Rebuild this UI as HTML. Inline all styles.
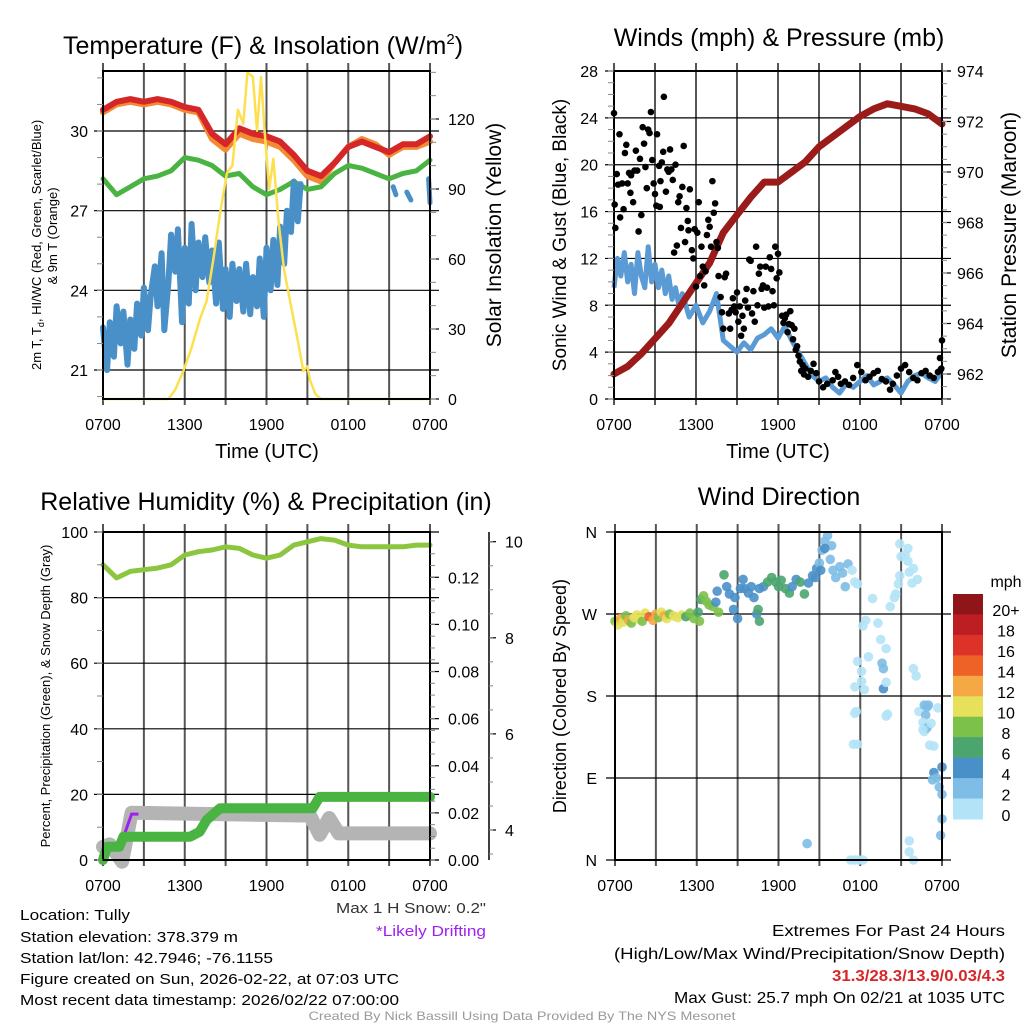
<!DOCTYPE html>
<html><head><meta charset="utf-8"><style>
html,body{margin:0;padding:0;background:#fff;}
svg{display:block;font-family:"Liberation Sans",Arial,sans-serif;}
</style></head><body>
<svg id="fig" width="1024" height="1024" viewBox="0 0 1024 1024" xmlns="http://www.w3.org/2000/svg">
<rect width="1024" height="1024" fill="#fff"/>
<g id="layer-grid"></g>
<g id="layer-data"></g>
<g id="layer-axes"></g>
<g id="layer-text"></g>
</svg>
<script>
// ---------- DATA ----------
const hours = [0,1,2,3,4,5,6,7,8,9,10,11,12,13,14,15,16,17,18,19,20,21,22,23,24];
const xTickLabels = ["0700","1300","1900","0100","0700"];
const tempRed = [30.8,31.1,31.2,31.1,31.2,31.1,30.9,30.8,29.9,29.5,30.1,29.9,29.8,29.6,29.1,28.5,28.3,28.8,29.4,29.6,29.4,29.2,29.5,29.5,29.8];
const tempOrange = [30.7,31.0,31.1,31.0,31.1,31.0,30.8,30.7,29.7,29.3,29.9,29.7,29.6,29.4,28.9,28.3,28.1,28.8,29.4,29.7,29.5,29.1,29.4,29.4,29.6];
const tempGreen = [28.2,27.6,27.9,28.2,28.3,28.5,29.0,28.9,28.7,28.3,28.4,27.9,27.6,27.8,28.1,27.8,27.9,28.4,28.7,28.6,28.4,28.2,28.4,28.5,28.9];
const dewTimes = [0,0.3,0.5,0.8,1,1.3,1.5,1.8,2,2.3,2.5,2.8,3,3.3,3.5,3.8,4,4.3,4.5,4.8,5,5.3,5.5,5.8,6,6.3,6.5,6.8,7,7.3,7.5,7.8,8,8.3,8.5,8.8,9,9.3,9.5,9.8,10,10.3,10.5,10.8,11,11.3,11.5,11.8,12,12.3,12.5,12.8,13,13.3,13.5,13.8,14,14.3,14.5];
const dewVals = [22.6,21.0,22.8,21.5,23.4,22.0,23.2,21.2,22.9,21.8,23.5,22.3,24.1,22.5,23.8,24.9,23.4,25.4,22.5,24.3,26.1,24.7,26.3,22.8,25.6,23.5,26.5,24.0,25.8,24.5,26.0,24.3,25.5,23.5,25.8,23.3,24.8,23.0,25.0,23.6,24.8,23.2,25.0,23.1,24.5,23.4,25.2,23.0,25.6,24.0,25.9,24.2,26.4,25.0,27.0,26.2,28.1,26.6,28.0];
const dewEndTimes = [21.3,21.5,null,22.3,22.6,null,23.9,24];
const dewEndVals = [27.9,27.6,null,27.7,27.4,null,28.2,27.3];
const solarTimes = [0,4.8,5.3,5.9,6.5,7.1,7.6,8.1,8.6,9.1,9.5,9.9,10.3,10.6,11.0,11.3,11.6,11.9,12.2,12.5,12.9,13.3,13.8,14.3,14.7,15.0,15.2,15.6,16,24];
const solarVals = [0,0,4,12,22,34,42,60,80,97,100,124,118,140,138,115,138,112,90,103,75,55,40,25,12,14,8,2,0,0];
const windTimes = [0,0.25,0.5,0.75,1,1.25,1.5,1.75,2,2.25,2.5,2.75,3,3.25,3.5,3.75,4,4.25,4.5,4.75,5,5.5,6,6.5,7,7.5,8,8.5,9,9.5,10,10.5,11,11.5,12,12.5,13,13.5,14,14.5,15,15.5,16,16.5,17,17.5,18,18.5,19,19.5,20,20.5,21,21.5,22,22.5,23,23.5,24];
const windVals = [9.5,12,10.5,12.5,10,11.5,9,12.5,10.5,9.5,13,10,11.5,9.5,11,9,10.5,8.5,9.5,8,9,7,8,6.5,7.5,9,5,4.5,4,4.8,4.2,5.2,5.5,6,5.2,6.2,5,4,3,2,1.5,1.8,1,0.5,1.3,1,1.5,2,1.2,1.5,1.8,1.2,0.5,1.5,2,2.2,1.8,1.5,2.3];
const gustTimes = [0,0.05,0.1,0.2,0.3,0.4,0.45,0.6,0.7,0.8,0.9,1.0,1.1,1.2,1.25,1.4,1.5,1.6,1.7,1.8,1.9,2.0,2.1,2.2,2.3,2.4,2.5,2.6,2.7,2.8,2.9,3.0,3.1,3.15,3.3,3.35,3.4,3.5,3.6,3.65,3.8,3.9,4.0,4.1,4.2,4.3,4.4,4.5,4.6,4.7,4.8,4.9,5.0,5.1,5.2,5.3,5.4,5.45,5.55,5.7,5.8,5.9,6.0,6.1,6.2,6.3,6.4,6.5,6.6,6.7,6.8,6.9,7.0,7.1,7.2,7.3,7.4,7.5,7.6,7.65,7.8,7.9,8.0,8.1,8.2,8.4,8.5,8.6,8.7,8.8,8.9,9.0,9.1,9.2,9.3,9.4,9.5,9.6,9.7,9.8,9.9,10.0,10.1,10.2,10.3,10.4,10.5,10.6,10.7,10.8,10.9,11.0,11.1,11.2,11.3,11.4,11.5,11.6,11.7,11.8,11.9,12.0,12.1,12.3,12.4,12.5,12.6,12.7,12.8,12.9,13.0,13.1,13.2,13.3,13.4,13.5,13.6,13.7,13.8,13.9,14.0,14.2,14.4,14.6,14.8,15.0,15.3,15.6,16.0,16.2,16.4,16.6,16.9,17.2,17.5,17.8,18.1,18.4,18.7,19.0,19.3,19.6,19.9,20.2,20.4,20.7,21.0,21.3,21.6,21.9,22.2,22.5,22.8,23.1,23.4,23.7,23.85,23.95,24.0,23.9];
const gustVals = [24.4,16.6,14.6,19.2,18.3,22.6,15.5,18.4,16.2,21.0,21.7,18.4,19.3,17.6,19.1,16.8,19.5,21.2,19.5,14.3,20.5,15.7,23.2,21.8,19.8,18.0,23.0,22.7,24.5,20.4,18.4,17.5,16.5,22.6,19.9,16.4,18.6,20.2,21.1,25.8,17.7,19.6,19.4,21.3,19.6,18.7,12.5,20.0,13.1,16.8,17.3,14.6,18.1,21.6,13.4,16.3,15.2,14.4,17.9,12.7,12.0,14.5,9.6,14.2,16.8,10.5,13.0,11.3,9.7,10.9,14.0,15.3,14.7,13.0,18.6,15.9,16.7,13.4,12.9,10.5,8.7,7.4,6.0,10.4,10.7,7.3,6.0,7.6,8.6,7.9,7.4,9.1,6.6,7.9,5.4,7.1,6.0,8.4,9.4,7.8,11.9,11.8,7.3,9.2,6.6,13.0,8.0,10.7,11.3,9.4,9.7,7.8,11.3,9.5,7.9,12.1,11.1,9.2,8.0,13.0,10.3,12.4,10.8,7.1,6.5,6.9,7.2,5.7,6.4,7.5,6.3,5.1,6.0,4.2,4.5,3.7,3.2,2.4,2.9,2.1,2.6,1.9,2.4,3.0,2.2,1.5,1.0,1.3,1.6,2.3,1.9,1.3,1.5,1.2,1.8,2.9,2.3,1.6,1.9,2.2,2.4,1.7,1.5,0.8,1.3,2.0,2.6,2.9,2.3,1.8,1.6,2.2,2.4,2.0,1.8,2.3,3.5,2.6,5.0,2.5];
const pressVals = [962.0,962.3,962.8,963.4,964.0,964.8,965.6,966.4,967.6,968.3,969.0,969.6,969.6,970.0,970.4,971.0,971.4,971.8,972.2,972.5,972.7,972.6,972.5,972.3,971.9];
const rhVals = [90,86,88,88.5,89,90,93,94,94.5,95.5,95,93,92,93,96,97,98,97.5,96,95.5,95.5,95.5,95.5,96,96];
const precipTimes = [0,0.3,1.2,1.5,6.4,7.1,7.6,8.6,15.4,15.9,24];
const precipVals = [0,0.0056,0.0056,0.0099,0.0099,0.012,0.017,0.022,0.022,0.0268,0.0268];
const snowTimes = [0,0.5,1.4,2.1,15.2,15.9,16.6,17.3,24];
const snowVals = [3.65,3.7,3.34,4.36,4.3,3.9,4.25,3.93,3.93];
const driftTimes = [1.5,2.1,2.6];
const driftVals = [3.85,4.33,4.33];
const dirTimes = [
 0,0.2,0.4,0.6,0.8,1,1.2,1.4,1.6,1.8, 2,2.2,2.5,2.8,3,3.2,3.4,3.6,3.8,4, 4.3,4.6,4.9,5.2,5.5,5.8,6.1,6.2,
 6.3,6.5,6.7,6.9,7.2,7.4,7.6,7.5,8,8.2, 8.4,8.7,8.8,9,9.2,9.4,9.5,9.8,10,10.2, 10.4,10.5,10.6,10.6,10.9,
 11.2,11.5,11.8,12,12.2,12.5,12.8,13,13.3,13.6, 13.9,14.2,14.5,14.8,15,15.2,15.4,15.6,15.8,15.9, 16,16.2,16.5,16.7,16.9,17.1,17.4,17.6,17.8,15.4, 15.1,14.7,14.1,
 17.3,17.6,17.9,18.2,17.5,17.7,17.6,17.8,17.6,17.8, 18.1,18.1,18.3,18.2,18.4,18.6,18.9,19.3,19.5,19.6, 19.7,19.7,19.9,19.9,19.9,20,20.2,20.6,20.8,20.9, 21,21.3,21.6,21.8,21.9,20.9,21.5,21.5,22.2,20.5,
 21.6,21.6,21.9,21.9,22.1,22.3,22.7,22.9,23,22.8, 22.6,22.7,22.9,23.2,23.4,23.4,23.6,23.8,24,24, 23.9,24,23.7,23.1,22.6,23.3];
const dirVals = [
 262,258,265,261,268,263,260,266,269,264, 262,271,267,263,270,266,272,268,265,270, 268,266,269,267,271,265,272,262,
 286,290,284,280,278,283,272,295,313,300, 292,275,288,265,298,308,298,293,300,288, 270,275,262,298,300,
 305,310,305,300,307,298,293,300,308,305, 292,304,312,320,326,340,350,356,330,345, 318,310,322,315,300,325,318,305,303,342, 318,310,18,
 0,0,0,0,127,163,161,127,190,218, 207,196,187,257,263,223,287,260,242,216, 210,188,195,232,158,160,278,292,303,312, 333,335,316,304,320,347,342,328,308,288,
 21,9,0,210,202,163,170,168,170,159, 151,141,145,150,125,96,90,80,72,45, 27,102,167,126,143,88];
const dirSpd = [
 8,10,12,11,9,12,8,10,10,11, 9,10,14,12,13,8,10,13,11,9, 10,10,10,7,9,8,7,8,
 6,8,8,8,8,4,8,4,6,4, 4,4,4,4,4,4,4,4,4,4, 4,6,6,4,4,
 6,6,6,6,6,6,6,4,4,6, 6,4,4,4,3,3,3,2,2,3, 2,2,3,3,3,2,1,1,1,4, 4,4,3,
 1,1,1,1,1,1,1,1,1,0, 1,1,1,1,1,1,1,1,0,3, 3,4,1,1,1,1,1,1,1,1, 1,1,1,1,0,0,1,1,1,1,
 1,1,0,1,1,1,3,3,3,2, 1,1,2,1,1,4,2,2,3,3, 2,4,1,1,1,2];
const cbLabels = ["20+","18","16","14","12","10","8","6","4","2","0"];
const cbColors = ["#8f1519","#bd1e24","#dc3228","#ee6228","#f5a944","#e6e05a","#7cc14a","#4aa56e","#4a90c8","#7dbde6","#b3e3f7"];

// ---------- HELPERS ----------
const NS="http://www.w3.org/2000/svg";
const G={grid:document.getElementById('layer-grid'),data:document.getElementById('layer-data'),axes:document.getElementById('layer-axes'),text:document.getElementById('layer-text')};
function mk(tag,attrs,parent){const e=document.createElementNS(NS,tag);for(const k in attrs)e.setAttribute(k,attrs[k]);(parent||G.data).appendChild(e);return e;}
function txt(s,x,y,opt,parent){opt=opt||{};const e=mk('text',{x:x,y:y,'font-size':opt.size||16,fill:opt.fill||'#000','text-anchor':opt.anchor||'start'},parent||G.text);if(opt.weight)e.setAttribute('font-weight',opt.weight);if(opt.rot)e.setAttribute('transform','rotate('+opt.rot+' '+x+' '+y+')');if(opt.len){e.setAttribute('textLength',opt.len);e.setAttribute('lengthAdjust','spacingAndGlyphs');}e.textContent=s;return e;}
function lin(d0,d1,r0,r1){return v=>r0+(v-d0)*(r1-r0)/(d1-d0);}
function pathFrom(ts,vs,xf,yf){let d='',pen=false;for(let i=0;i<ts.length;i++){if(ts[i]===null||vs[i]===null){pen=false;continue;}d+=(pen?'L':'M')+xf(ts[i]).toFixed(1)+','+yf(vs[i]).toFixed(1);pen=true;}return d;}

const P={TL:{x0:103,x1:430,y0:71,y1:399},TR:{x0:614,x1:942,y0:71,y1:399},BL:{x0:103,x1:430,y0:532,y1:860},BR:{x0:615,x1:942,y0:532,y1:860}};
function frame(p,name){
  const xf=lin(0,24,p.x0,p.x1);
  for(let h=0;h<=24;h+=3){const x=xf(h);const l=mk('line',{x1:x,y1:p.y0-8,x2:x,y2:p.y1+6,stroke:'#555','stroke-width':2},G.grid);}
  xTickLabels.forEach((s,i)=>{const t=txt(s,xf(i*6),p.y1+31,{size:16,anchor:'middle'});});
  const r=mk('rect',{x:p.x0,y:p.y0,width:p.x1-p.x0,height:p.y1-p.y0,fill:'none',stroke:'#000','stroke-width':2},G.axes);
  
  return xf;
}
function hgrid(p,y,name){const l=mk('line',{x1:p.x0-9,y1:y,x2:p.x1+9,y2:y,stroke:'#000','stroke-width':1.2},G.grid);}
function minor(x,y,dir,len){mk('line',{x1:x,y1:y,x2:x+dir*len,y2:y,stroke:'#888','stroke-width':1},G.axes);}

// ---------- PANEL TL ----------
(function(){
  const p=P.TL;const xf=frame(p,'temp');
  const yT=lin(30,21,131,370);const yS=lin(0,120,399,119);
  [21,24,27,30].forEach(v=>{hgrid(p,yT(v),'temp');const t=txt(String(v),88,yT(v)+6,{size:16,anchor:'end'});});
  for(let v=20;v<=32;v++)minor(p.x0,yT(v),-1,6);
  [0,30,60,90,120].forEach(v=>{mk('line',{x1:p.x1,y1:yS(v),x2:p.x1+9,y2:yS(v),stroke:'#000','stroke-width':1.2},G.axes);const t=txt(String(v),448,yS(v)+6,{size:16});});
  for(let v=0;v<=140;v+=10)minor(p.x1,yS(v),1,6);
  let e=mk('path',{d:pathFrom(hours,tempOrange,xf,yT),fill:'none',stroke:'#f58a34','stroke-width':6,'stroke-linejoin':'round','stroke-linecap':'round'});
  
  e=mk('path',{d:pathFrom(hours,tempRed,xf,yT),fill:'none',stroke:'#d62728','stroke-width':6,'stroke-linejoin':'round','stroke-linecap':'round'});
  
  e=mk('path',{d:pathFrom(hours,tempGreen,xf,yT),fill:'none',stroke:'#4ab443','stroke-width':5,'stroke-linejoin':'round','stroke-linecap':'round'});
  
  e=mk('path',{d:pathFrom(dewTimes,dewVals,xf,yT),fill:'none',stroke:'#4a90c8','stroke-width':6,'stroke-linejoin':'round','stroke-linecap':'round'});
  
  e=mk('path',{d:pathFrom(dewEndTimes,dewEndVals,xf,yT),fill:'none',stroke:'#4a90c8','stroke-width':5,'stroke-linecap':'round'});
  
  e=mk('path',{d:pathFrom(solarTimes,solarVals,xf,yS),fill:'none',stroke:'#fde050','stroke-width':2.5,'stroke-linejoin':'round'});
  
  let t=txt('Temperature (F) & Insolation (W/m',263,54,{size:25,anchor:'middle'});
  const sp=mk('tspan',{'font-size':15,dy:-10},t);sp.textContent='2';const sp2=mk('tspan',{dy:10},t);sp2.textContent=')';
  t=txt('Time (UTC)',267,458,{size:20,anchor:'middle'});
  t=txt('Solar Insolation (Yellow)',501,235,{size:21,anchor:'middle',rot:-90});
  t=txt('2m T, T',41,370,{size:13,rot:-90});
  const s1=mk('tspan',{'font-size':9,dy:3},t);s1.textContent='d';const s2=mk('tspan',{dy:-3},t);s2.textContent=', HI/WC (Red, Green, Scarlet/Blue)';
  t=txt('& 9m T (Orange)',57,236,{size:13,anchor:'middle',rot:-90});
})();

// ---------- PANEL TR ----------
(function(){
  const p=P.TR;const xf=frame(p,'wind');
  const yW=lin(0,28,399,71);const yP=lin(962,974,374,71);
  [0,4,8,12,16,20,24,28].forEach(v=>{hgrid(p,yW(v),'wind');const t=txt(String(v),598,yW(v)+6,{size:16,anchor:'end'});});
  for(let v=0;v<=28;v++)minor(p.x0,yW(v),-1,6);
  [962,964,966,968,970,972,974].forEach(v=>{mk('line',{x1:p.x1,y1:yP(v),x2:p.x1+9,y2:yP(v),stroke:'#000','stroke-width':1.2},G.axes);const t=txt(String(v),957,yP(v)+6,{size:16});});
  for(let v=961;v<=974;v+=0.5)minor(p.x1,yP(v),1,5);
  let e=mk('path',{d:pathFrom(windTimes,windVals,xf,yW),fill:'none',stroke:'#5a9bd5','stroke-width':5,'stroke-linejoin':'round'});
  
  e=mk('path',{d:pathFrom(hours,pressVals,xf,yP),fill:'none',stroke:'#9b1b1b','stroke-width':7,'stroke-linejoin':'round','stroke-linecap':'round'});
  
  const g=mk('g',{});
  for(let i=0;i<gustTimes.length;i++){const c=mk('circle',{cx:xf(gustTimes[i]),cy:yW(gustVals[i]),r:3.3,fill:'#000'},g);}
  let t=txt('Winds (mph) & Pressure (mb)',779,46,{size:25,anchor:'middle'});
  t=txt('Time (UTC)',778,458,{size:20,anchor:'middle'});
  t=txt('Sonic Wind & Gust (Blue, Black)',566,235,{size:19,anchor:'middle',rot:-90});
  t=txt('Station Pressure (Maroon)',1016,235,{size:21,anchor:'middle',rot:-90});
})();

// ---------- PANEL BL ----------
(function(){
  const p=P.BL;const xf=frame(p,'rh');
  const yR=lin(0,100,860,532);const yPr=lin(0,0.12,860,577.3);const ySn=lin(4,10,830,541.7);
  [0,20,40,60,80,100].forEach(v=>{hgrid(p,yR(v),'rh');const t=txt(String(v),88,yR(v)+6,{size:16,anchor:'end'});});
  for(let v=0;v<=100;v+=10)minor(p.x0,yR(v),-1,6);
  [0,0.02,0.04,0.06,0.08,0.10,0.12].forEach(v=>{mk('line',{x1:p.x1,y1:yPr(v),x2:p.x1+9,y2:yPr(v),stroke:'#000','stroke-width':1.2},G.axes);const t=txt(v.toFixed(2),448,yPr(v)+6,{size:16});});
  for(let v=0;v<=0.135;v+=0.005)minor(p.x1,yPr(v),1,5);
  const ax=mk('line',{x1:489,y1:532,x2:489,y2:860,stroke:'#000','stroke-width':1.5},G.axes);
  [4,6,8,10].forEach(v=>{mk('line',{x1:489,y1:ySn(v),x2:496,y2:ySn(v),stroke:'#000','stroke-width':1.2},G.axes);const t=txt(String(v),505,ySn(v)+6,{size:16});});
  for(let v=3.5;v<=10.2;v+=0.5)minor(489,ySn(v),1,4);
  let e=mk('path',{d:pathFrom(snowTimes,snowVals,xf,ySn),fill:'none',stroke:'#b4b4b4','stroke-width':14,'stroke-linejoin':'round','stroke-linecap':'round'});
  
  e=mk('path',{d:pathFrom(driftTimes,driftVals,xf,ySn),fill:'none',stroke:'#a020f0','stroke-width':3});
  
  e=mk('path',{d:pathFrom(precipTimes,precipVals,xf,yPr),fill:'none',stroke:'#4ab443','stroke-width':10,'stroke-linejoin':'round','stroke-linecap':'round'});
  
  e=mk('path',{d:pathFrom(hours,rhVals,xf,yR),fill:'none',stroke:'#8cc63f','stroke-width':5,'stroke-linejoin':'round','stroke-linecap':'round'});
  
  let t=txt('Relative Humidity (%) & Precipitation (in)',266,510,{size:25,anchor:'middle'});
  t=txt('Percent, Precipitation (Green), & Snow Depth (Gray)',50,696,{size:13,anchor:'middle',rot:-90});
})();

// ---------- PANEL BR ----------
(function(){
  const p=P.BR;const xf=frame(p,'dir');
  const yD=lin(0,360,860,532);
  [[360,'N'],[270,'W'],[180,'S'],[90,'E'],[0,'N']].forEach(a=>{hgrid(p,yD(a[0]),'dir');const t=txt(a[1],597,yD(a[0])+6,{size:16,anchor:'end'});});
  function col(s){let i=Math.max(0,Math.min(10,Math.floor(s/2)));return cbColors[10-i];}
  const g=mk('g',{});
  for(let i=0;i<dirTimes.length;i++){const c=mk('circle',{cx:xf(dirTimes[i]),cy:yD(dirVals[i]),r:4.8,fill:col(dirSpd[i]),'fill-opacity':0.9},g);}
  const cb=mk('g',{});
  const h=(819-594)/11;
  cbColors.forEach((c,i)=>{const r=mk('rect',{x:953,y:594+i*h,width:30,height:h+0.5,fill:c},cb);
    const t=txt(cbLabels[i],1006,594+i*h+h/2+12,{size:16,anchor:'middle'});});
  let t=txt('mph',1006,587,{size:16,anchor:'middle'});
  t=txt('Wind Direction',779,505,{size:25,anchor:'middle'});
  t=txt('Direction (Colored By Speed)',566,696,{size:18,anchor:'middle',rot:-90});
})();

// ---------- FOOTER TEXT ----------
(function(){
  const L=[['Location: Tully',920,110],['Station elevation: 378.379 m',942,218],['Station lat/lon: 42.7946; -76.1155',963,253],['Figure created on Sun, 2026-02-22, at 07:03 UTC',984,379],['Most recent data timestamp: 2026/02/22 07:00:00',1005,379]];
  L.forEach(a=>{const t=txt(a[0],20,a[1],{size:15,len:a[2]});});
  let t=txt('Max 1 H Snow: 0.2"',486,913,{size:15,anchor:'end',fill:'#333',len:150});
  t=txt('*Likely Drifting',486,936,{size:15,anchor:'end',fill:'#a020f0',len:110});
  t=txt('Extremes For Past 24 Hours',1005,936,{size:16,anchor:'end',len:233});
  t=txt('(High/Low/Max Wind/Precipitation/Snow Depth)',1005,959,{size:16,anchor:'end',len:391});
  t=txt('31.3/28.3/13.9/0.03/4.3',1005,981,{size:16,anchor:'end',fill:'#d62728',weight:'bold',len:173});
  t=txt('Max Gust: 25.7 mph On 02/21 at 1035 UTC',1005,1003,{size:16,anchor:'end',len:331});
  t=txt('Created By Nick Bassill Using Data Provided By The NYS Mesonet',522,1020,{size:12,anchor:'middle',fill:'#999',len:427});
})();
</script>
</body></html>
